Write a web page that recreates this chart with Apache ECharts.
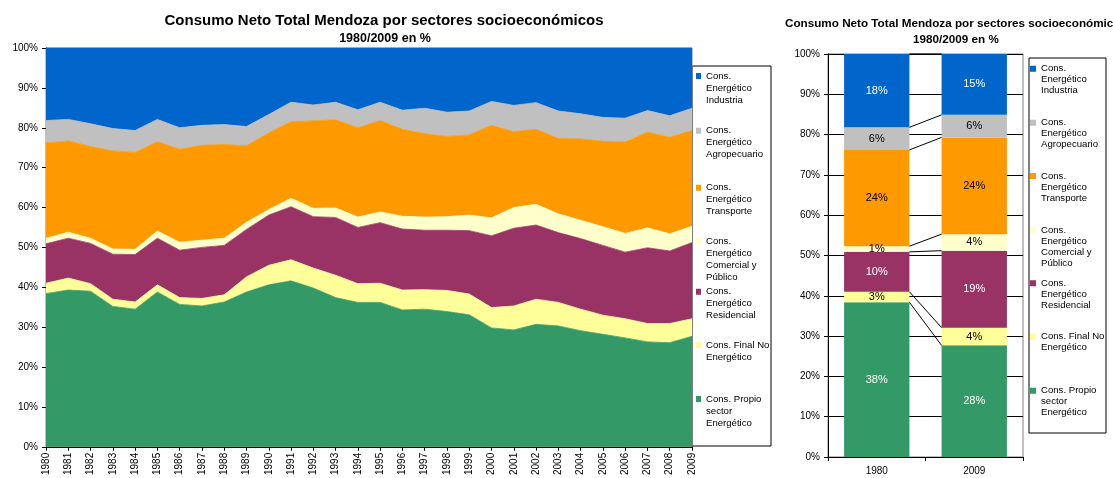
<!DOCTYPE html>
<html><head><meta charset="utf-8">
<script src="https://cdn.jsdelivr.net/npm/echarts/dist/echarts.min.js"></script>
<style>html,body{margin:0;padding:0;background:#fff}#c{width:1113px;height:478px}</style>
</head><body><div id="c"></div>
<script>
// ---- data (percent of total, stacked bottom -> top) ----
const years = ['1980','1981','1982','1983','1984','1985','1986','1987','1988','1989','1990','1991','1992','1993','1994','1995','1996','1997','1998','1999','2000','2001','2002','2003','2004','2005','2006','2007','2008','2009'];
const propio      = [38.4,39.3,39.0,35.2,34.5,38.8,35.7,35.3,36.3,38.8,40.6,41.6,39.8,37.4,36.2,36.2,34.3,34.5,33.9,33.1,29.8,29.3,30.7,30.3,29.1,28.2,27.3,26.3,26.1,27.7];
const finalNo     = [2.6,3.0,1.9,1.8,1.8,1.8,1.7,1.9,1.8,3.8,4.9,5.3,5.0,5.6,4.7,4.8,5.0,4.9,5.3,5.2,5.1,6.0,6.3,5.9,5.4,4.8,4.8,4.6,4.8,4.4];
const residencial = [9.9,10.0,10.1,11.3,11.9,11.7,11.9,12.8,12.4,11.9,12.6,13.3,12.9,14.5,14.1,15.2,15.3,14.9,15.1,15.9,18.0,19.5,18.6,17.5,17.7,17.5,16.7,19.0,18.2,19.1];
const comercial   = [1.4,1.5,1.3,1.3,1.3,1.8,2.0,1.8,1.8,1.8,1.4,2.1,2.1,2.4,2.6,2.7,3.2,3.3,3.4,3.9,4.5,5.2,5.2,4.7,4.6,4.7,4.7,5.0,4.3,4.1];
const transporte  = [23.9,22.9,23.0,24.6,24.3,22.4,23.3,23.8,23.5,19.2,19.2,19.2,21.9,22.1,22.4,22.9,21.8,20.9,20.1,20.1,23.2,19.0,18.8,18.9,20.4,21.4,22.9,24.0,24.2,24.0];
const agro        = [5.6,5.4,5.7,5.6,5.5,5.6,5.4,5.0,5.0,4.8,4.6,4.9,4.0,4.4,4.5,4.6,4.8,6.4,6.1,6.0,6.0,6.6,6.7,6.9,6.3,6.0,6.0,5.4,5.4,5.6];
const industria   = [18.2,17.9,19.0,20.2,20.7,17.9,20.0,19.4,19.2,19.7,16.7,13.6,14.3,13.6,15.5,13.6,15.6,15.1,16.1,15.8,13.4,14.4,13.7,15.8,16.5,17.4,17.6,15.7,17.0,15.1];
const barCategories = ['1980','2009'];
const seriesNames = ['Cons. Propio sector Energético','Cons. Final No Energético','Cons. Energético Residencial','Cons. Energético Comercial y Público','Cons. Energético Transporte','Cons. Energético Agropecuario','Cons. Energético Industria'];
const legendLabels = ['Cons. Propio\nsector\nEnergético','Cons. Final No\nEnergético','Cons.\nEnergético\nResidencial','Cons.\nEnergético\nComercial y\nPúblico','Cons.\nEnergético\nTransporte','Cons.\nEnergético\nAgropecuario','Cons.\nEnergético\nIndustria'];
const yTicks = {min: 0, max: 100, interval: 10};
const titleText = 'Consumo Neto Total Mendoza por sectores socioeconómicos';
const subtitleText = '1980/2009 en %';

// ---- styling ----
const colors = ['#339966','#FFFF99','#993366','#FFFFCC','#FF9900','#C0C0C0','#0066CC'];
const labelColors = ['#fff','#000','#fff','#000','#000','#000','#fff'];
const FONT = '"Liberation Sans", Arial, sans-serif';
const allData = [propio, finalNo, residencial, comercial, transporte, agro, industria];

const series = [];
allData.forEach((d, i) => {
  series.push({
    type: 'line', name: seriesNames[i], stack: 'area', xAxisIndex: 0, yAxisIndex: 0,
    data: d, showSymbol: false, symbol: 'none', smooth: false,
    lineStyle: {width: 0.8, color: colors[i]},
    itemStyle: {color: colors[i]},
    areaStyle: {color: colors[i], opacity: 1},
    emphasis: {disabled: true}, silent: true, z: 2
  });
});
allData.forEach((d, i) => {
  series.push({
    type: 'bar', name: seriesNames[i], stack: 'bar', xAxisIndex: 1, yAxisIndex: 1,
    data: [d[0], d[d.length - 1]], barWidth: '67%',
    itemStyle: {color: colors[i]},
    label: {show: true, position: 'inside', color: labelColors[i], fontSize: 11, fontFamily: FONT,
      formatter: p => Math.round(p.value) + '%'},
    emphasis: {disabled: true}, silent: true, z: 2
  });
});
// series lines between the two bars (top of each stacked segment)
const lineData = [];
let c0 = 0, c1 = 0;
allData.forEach(d => { c0 += d[0]; c1 += d[d.length - 1]; lineData.push([0, c0, c1]); });
series.push({
  type: 'custom', xAxisIndex: 1, yAxisIndex: 1, silent: true, z: 3,
  data: lineData,
  renderItem: function (params, api) {
    const p0 = api.coord([0, api.value(1)]);
    const p1 = api.coord([1, api.value(2)]);
    const band = api.size([1, 0])[0];
    const hw = band * 0.67 / 2;
    return {type: 'line', shape: {x1: p0[0] + hw, y1: p0[1], x2: p1[0] - hw, y2: p1[1]},
            style: {stroke: '#000', lineWidth: 1}};
  }
});

// per-item legends (marker aligned with first text line)
function legendItem(idx, left, firstLineCenter, lh, w) {
  const n = legendLabels[idx].split('\n').length;
  const H = n * lh;
  const sq = lh / 2 - 3;
  return {
    data: [seriesNames[idx]], left: left, top: firstLineCenter - lh / 2, orient: 'vertical',
    padding: 0, itemGap: 0, itemWidth: w, itemHeight: H,
    icon: 'path://M0,0L0.001,0M0,' + sq + 'h' + w + 'v6h-' + w + 'zM0,' + H + 'L0.001,' + H,
    itemStyle: {borderWidth: 0},
    formatter: () => legendLabels[idx],
    textStyle: {fontSize: 9.6, lineHeight: lh, color: '#000', fontFamily: FONT},
    selectedMode: false
  };
}
const leftLegendY = [399, 345, 291.7, 241, 187.7, 130.7, 76];
const rightLegendY = [390.7, 336.7, 283.3, 230, 176, 122.7, 68.7];
const legends = [];
for (let i = 0; i < 7; i++) legends.push(legendItem(i, 696, leftLegendY[i], 12, 5));
for (let i = 0; i < 7; i++) legends.push(legendItem(i, 1030, rightLegendY[i], 11, 6));

const axisLabelStyle = {color: '#000', fontSize: 10, fontFamily: FONT};
const option = {
  animation: false,
  backgroundColor: '#fff',
  textStyle: {fontFamily: FONT},
  title: [
    {text: titleText, left: 384, top: 13, textAlign: 'center', padding: 0,
     textStyle: {fontSize: 15, fontWeight: 'bold', color: '#000', fontFamily: FONT}},
    {text: subtitleText, left: 385, top: 32, textAlign: 'center', padding: 0,
     textStyle: {fontSize: 12.5, fontWeight: 'bold', color: '#000', fontFamily: FONT}},
    {text: titleText, left: 956, top: 18, textAlign: 'center', padding: 0,
     textStyle: {fontSize: 11.7, fontWeight: 'bold', color: '#000', fontFamily: FONT}},
    {text: subtitleText, left: 956, top: 34, textAlign: 'center', padding: 0,
     textStyle: {fontSize: 11.7, fontWeight: 'bold', color: '#000', fontFamily: FONT}}
  ],
  legend: legends,
  graphic: [
    {type: 'rect', shape: {x: 692, y: 66, width: 79, height: 380}, style: {fill: '#fff', stroke: '#000', lineWidth: 1}, z: -1, silent: true},
    {type: 'rect', shape: {x: 1029, y: 58, width: 77, height: 375}, style: {fill: '#fff', stroke: '#000', lineWidth: 1}, z: -1, silent: true}
  ],
  grid: [
    {left: 46, top: 48, width: 646, height: 400, show: true, borderColor: '#808080', borderWidth: 1, containLabel: false},
    {left: 828, top: 54, width: 195, height: 403, show: true, borderColor: '#808080', borderWidth: 1, containLabel: false}
  ],
  xAxis: [
    {type: 'category', gridIndex: 0, data: years, boundaryGap: false,
     axisLine: {lineStyle: {color: '#000', width: 1}},
     axisTick: {show: true, length: 4, lineStyle: {color: '#000'}},
     axisLabel: Object.assign({rotate: 90, interval: 0, margin: 6}, axisLabelStyle),
     splitLine: {show: false}},
    {type: 'category', gridIndex: 1, data: barCategories, boundaryGap: true,
     axisLine: {lineStyle: {color: '#000', width: 1}},
     axisTick: {show: true, length: 4, lineStyle: {color: '#000'}},
     axisLabel: Object.assign({margin: 9}, axisLabelStyle),
     splitLine: {show: false}}
  ],
  yAxis: [
    {type: 'value', gridIndex: 0, min: yTicks.min, max: yTicks.max, interval: yTicks.interval,
     axisLine: {show: true, lineStyle: {color: '#000', width: 1}},
     axisTick: {show: true, length: 4, lineStyle: {color: '#000'}},
     axisLabel: Object.assign({formatter: '{value}%', margin: 8}, axisLabelStyle),
     splitLine: {show: false}},
    {type: 'value', gridIndex: 1, min: yTicks.min, max: yTicks.max, interval: yTicks.interval,
     axisLine: {show: true, lineStyle: {color: '#000', width: 1}},
     axisTick: {show: true, length: 4, lineStyle: {color: '#000'}},
     axisLabel: Object.assign({formatter: '{value}%', margin: 8}, axisLabelStyle),
     splitLine: {show: true, lineStyle: {color: '#000', width: 1}}}
  ],
  series: series
};
const chart = echarts.init(document.getElementById('c'), null, {renderer: 'canvas'});
chart.setOption(option);
</script>
</body></html>
